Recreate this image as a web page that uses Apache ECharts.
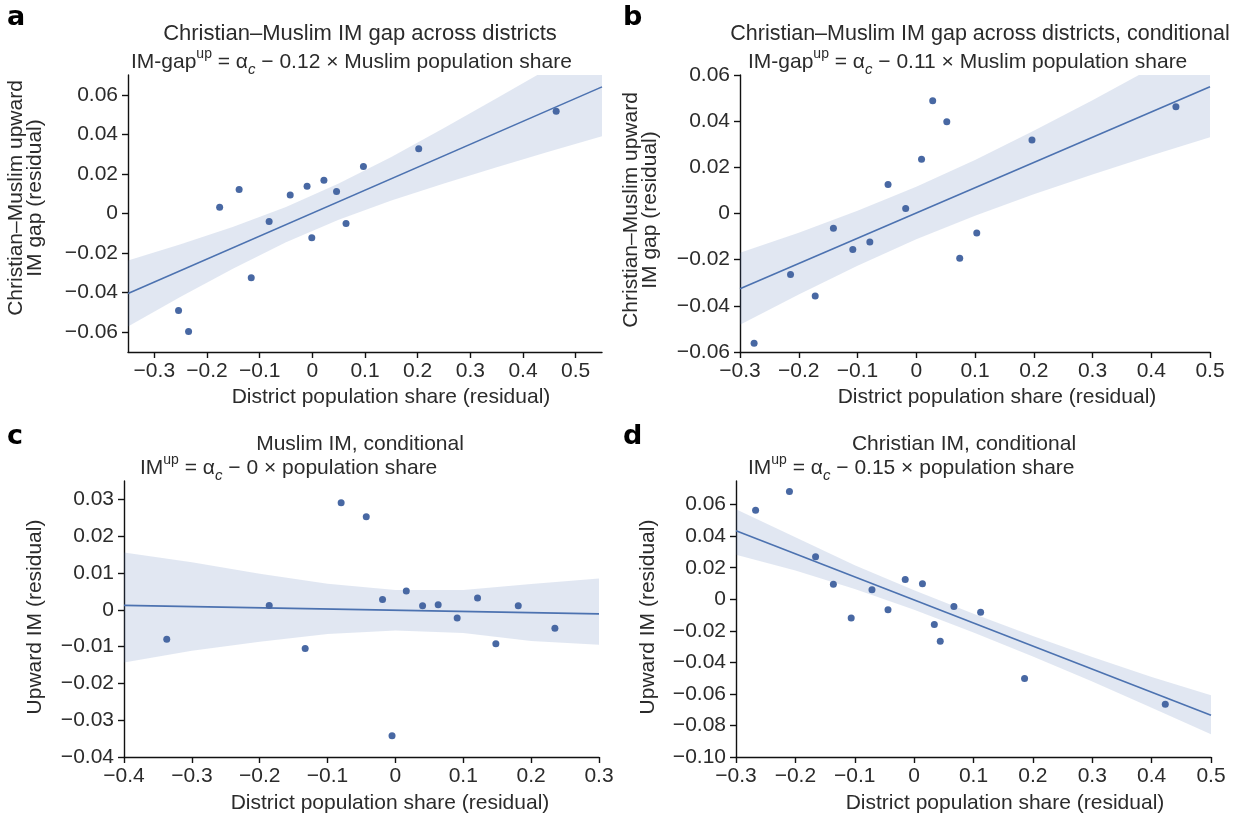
<!DOCTYPE html>
<html>
<head>
<meta charset="utf-8">
<title>IM gap across districts</title>
<script src="https://cdn.jsdelivr.net/npm/echarts@6.0.0/dist/echarts.min.js"></script>
<style>
  html, body { margin: 0; padding: 0; background: #ffffff; }
  #main { width: 1244px; height: 823px; }
</style>
</head>
<body>
<div id="main"></div>
<script>
// ---- panel a: Christian-Muslim IM gap across districts
const aX = [-0.254, -0.235, -0.176, -0.139, -0.116, -0.082, -0.042, -0.010, -0.001, 0.022, 0.046, 0.064, 0.097, 0.202, 0.463];
const aY = [-0.0490, -0.0596, 0.0032, 0.0121, -0.0325, -0.0040, 0.0094, 0.0138, -0.0123, 0.0168, 0.0111, -0.0051, 0.0238, 0.0327, 0.0517];
const aFitX = [-0.35, 0.55];
const aFitY = [-0.0404, 0.0640];
const aBandX = [-0.35, -0.25, -0.15, -0.05, 0.05, 0.15, 0.25, 0.35, 0.45, 0.55];
const aBandLo = [-0.0571, -0.0421, -0.0278, -0.0145, -0.0031, 0.0066, 0.0152, 0.0234, 0.0313, 0.0390];
const aBandHi = [-0.0237, -0.0155, -0.0067, 0.0033, 0.0151, 0.0286, 0.0432, 0.0582, 0.0735, 0.0890];
const aXTicks = [-0.3, -0.2, -0.1, 0, 0.1, 0.2, 0.3, 0.4, 0.5];
const aYTicks = [-0.06, -0.04, -0.02, 0, 0.02, 0.04, 0.06];

// ---- panel b: conditional gap
const bX = [-0.276, -0.214, -0.172, -0.141, -0.108, -0.079, -0.048, -0.018, 0.009, 0.028, 0.052, 0.074, 0.103, 0.197, 0.442];
const bY = [-0.0562, -0.0264, -0.0357, -0.0064, -0.0156, -0.0124, 0.0126, 0.0022, 0.0235, 0.0488, 0.0397, -0.0194, -0.0085, 0.0318, 0.0462];
const bFitX = [-0.3, 0.5];
const bFitY = [-0.0326, 0.0549];
const bBandX = [-0.3, -0.2, -0.1, 0, 0.1, 0.2, 0.3, 0.4, 0.5];
const bBandLo = [-0.0482, -0.0351, -0.0226, -0.0112, -0.0010, 0.0083, 0.0169, 0.0251, 0.0330];
const bBandHi = [-0.0170, -0.0083, 0.0012, 0.0116, 0.0232, 0.0359, 0.0491, 0.0629, 0.0768];
const bXTicks = [-0.3, -0.2, -0.1, 0, 0.1, 0.2, 0.3, 0.4, 0.5];
const bYTicks = [-0.06, -0.04, -0.02, 0, 0.02, 0.04, 0.06];

// ---- panel c: Muslim IM, conditional
const cX = [-0.337, -0.186, -0.133, -0.080, -0.043, -0.019, -0.005, 0.016, 0.040, 0.063, 0.091, 0.121, 0.148, 0.181, 0.235];
const cY = [-0.0080, 0.0012, -0.0105, 0.0291, 0.0253, 0.0028, -0.0342, 0.0051, 0.0011, 0.0014, -0.0022, 0.0032, -0.0092, 0.0011, -0.0050];
const cFitX = [-0.4, 0.3];
const cFitY = [0.0012, -0.0011];
const cBandX = [-0.4, -0.3, -0.2, -0.1, 0, 0.1, 0.2, 0.3];
const cBandLo = [-0.0143, -0.0111, -0.0087, -0.0066, -0.0056, -0.0063, -0.0085, -0.0095];
const cBandHi = [0.0156, 0.0129, 0.0098, 0.0071, 0.0054, 0.0054, 0.0070, 0.0085];
const cXTicks = [-0.4, -0.3, -0.2, -0.1, 0, 0.1, 0.2, 0.3];
const cYTicks = [-0.04, -0.03, -0.02, -0.01, 0, 0.01, 0.02, 0.03];

// ---- panel d: Christian IM, conditional
const dX = [-0.267, -0.210, -0.166, -0.136, -0.106, -0.071, -0.044, -0.015, 0.014, 0.034, 0.044, 0.067, 0.112, 0.186, 0.423];
const dY = [0.0565, 0.0683, 0.0270, 0.0095, -0.0118, 0.0061, -0.0067, 0.0126, 0.0099, -0.0160, -0.0266, -0.0046, -0.0082, -0.0502, -0.0666];
const dFitX = [-0.3, 0.5];
const dFitY = [0.0434, -0.0736];
const dBandX = [-0.3, -0.2, -0.1, 0, 0.1, 0.2, 0.3, 0.4, 0.5];
const dBandLo = [0.0282, 0.0183, 0.0066, -0.0067, -0.0211, -0.0363, -0.0522, -0.0687, -0.0856];
const dBandHi = [0.0571, 0.0393, 0.0216, 0.0057, -0.0091, -0.0233, -0.0366, -0.0493, -0.0609];
const dXTicks = [-0.3, -0.2, -0.1, 0, 0.1, 0.2, 0.3, 0.4, 0.5];
const dYTicks = [-0.10, -0.08, -0.06, -0.04, -0.02, 0, 0.02, 0.04, 0.06];

const FONT = '"Liberation Sans", Arial, sans-serif';
const TXT = '#2b2b2b';
const DOT = '#4868a3';
const LINE = '#4c72b0';
const BAND = 'rgba(76,114,176,0.17)';

const zip = (xs, ys) => xs.map((x, i) => [x, ys[i]]);
// "0" for zero, true minus sign, fixed decimals per axis
const fmt = dec => v => {
    if (Math.abs(v) < 1e-9) return '0';
    return (v < 0 ? '\u2212' : '') + Math.abs(v).toFixed(dec);
};

const panels = [
    { grid: { left: 128, top: 75, width: 474, height: 277 }, xr: [-0.35, 0.55], yr: [-0.07, 0.07],
      x: aX, y: aY, fx: aFitX, fy: aFitY, bx: aBandX, lo: aBandLo, hi: aBandHi, xt: aXTicks, yt: aYTicks },
    { grid: { left: 740, top: 75, width: 470, height: 277 }, xr: [-0.3, 0.5], yr: [-0.06, 0.06],
      x: bX, y: bY, fx: bFitX, fy: bFitY, bx: bBandX, lo: bBandLo, hi: bBandHi, xt: bXTicks, yt: bYTicks },
    { grid: { left: 124, top: 481, width: 475, height: 276 }, xr: [-0.4, 0.3], yr: [-0.04, 0.035],
      x: cX, y: cY, fx: cFitX, fy: cFitY, bx: cBandX, lo: cBandLo, hi: cBandHi, xt: cXTicks, yt: cYTicks },
    { grid: { left: 736, top: 481, width: 475, height: 276 }, xr: [-0.3, 0.5], yr: [-0.10, 0.075],
      x: dX, y: dY, fx: dFitX, fy: dFitY, bx: dBandX, lo: dBandLo, hi: dBandHi, xt: dXTicks, yt: dYTicks }
];

const axisLine = { show: true, onZero: false, lineStyle: { color: '#111', width: 1.4 } };
const axisTick = { show: true, inside: false, length: 6, lineStyle: { color: '#111', width: 1.4 } };
const labelBase = { fontFamily: FONT, fontSize: 21, color: TXT };

// band polygon: upper edge left->right, lower edge right->left, clipped to the grid
const bandRenderer = p => (params, api) => {
    if (params.dataIndex !== 0) return null;
    const cs = params.coordSys;
    const pts = [];
    p.bx.forEach((x, k) => pts.push(api.coord([x, p.hi[k]])));
    for (let k = p.bx.length - 1; k >= 0; k--) pts.push(api.coord([p.bx[k], p.lo[k]]));
    return {
        type: 'polygon',
        shape: { points: pts },
        style: { fill: BAND },
        clipPath: { type: 'rect', shape: { x: cs.x, y: cs.y, width: cs.width, height: cs.height } }
    };
};

const grids = [], xAxes = [], yAxes = [], series = [];
panels.forEach((p, i) => {
    grids.push(Object.assign({ containLabel: false }, p.grid));
    xAxes.push({
        type: 'value', gridIndex: i, min: p.xr[0], max: p.xr[1],
        axisLine: axisLine, splitLine: { show: false },
        axisTick: Object.assign({ customValues: p.xt }, axisTick),
        axisLabel: Object.assign({ customValues: p.xt, margin: 9, formatter: fmt(1) }, labelBase)
    });
    yAxes.push({
        type: 'value', gridIndex: i, min: p.yr[0], max: p.yr[1],
        axisLine: axisLine, splitLine: { show: false },
        axisTick: Object.assign({ customValues: p.yt }, axisTick),
        axisLabel: Object.assign({ customValues: p.yt, margin: 10, formatter: fmt(2) }, labelBase)
    });
    series.push({
        type: 'custom', xAxisIndex: i, yAxisIndex: i, silent: true, z: 1,
        data: zip(p.bx, p.lo), renderItem: bandRenderer(p)
    });
    series.push({
        type: 'line', xAxisIndex: i, yAxisIndex: i, data: zip(p.fx, p.fy),
        symbol: 'none', lineStyle: { color: LINE, width: 1.6 }, z: 2, silent: true
    });
    series.push({
        type: 'scatter', xAxisIndex: i, yAxisIndex: i, data: zip(p.x, p.y),
        symbolSize: 7, itemStyle: { color: DOT, opacity: 1 }, z: 3
    });
});

const txt = (x, y, text, extra) => ({
    type: 'text', x: x, y: y, silent: true,
    style: Object.assign({ text: text, fontFamily: FONT, fontSize: 21, fill: TXT,
        textAlign: 'center', textVerticalAlign: 'middle' }, extra || {})
});
const rich = {
    sup: { fontFamily: FONT, fontSize: 14, fill: TXT, verticalAlign: 'top', lineHeight: 14 },
    sub: { fontFamily: FONT, fontSize: 15, fill: TXT, fontStyle: 'italic', verticalAlign: 'bottom', lineHeight: 12 }
};
const sub = (x, y, text) => txt(x, y, text, { textAlign: 'left', lineHeight: 30, rich: rich });
const letter = (x, y, l) => txt(x, y, l, { fontSize: 27, fontWeight: 'bold', fill: '#000',
    fontFamily: '"DejaVu Sans", ' + FONT, textAlign: 'left' });
const vtxt = (x, y, text, extra) => Object.assign(txt(x, y, text, extra), { rotation: Math.PI / 2 });

const graphics = [
    letter(7, 18, 'a'), letter(623, 18, 'b'), letter(7, 437, 'c'), letter(623, 437, 'd'),
    txt(360, 34, 'Christian\u2013Muslim IM gap across districts', { fontSize: 22 }),
    txt(980, 34, 'Christian\u2013Muslim IM gap across districts, conditional', { fontSize: 21.5 }),
    txt(360, 444, 'Muslim IM, conditional'),
    txt(964, 444, 'Christian IM, conditional'),
    sub(131, 62, 'IM-gap{sup|up} = \u03b1{sub|c} \u2212 0.12 \u00d7 Muslim population share'),
    sub(748, 62, 'IM-gap{sup|up} = \u03b1{sub|c} \u2212 0.11 \u00d7 Muslim population share'),
    sub(140, 468, 'IM{sup|up} = \u03b1{sub|c} \u2212 0 \u00d7 population share'),
    sub(748, 468, 'IM{sup|up} = \u03b1{sub|c} \u2212 0.15 \u00d7 population share'),
    txt(391, 397, 'District population share (residual)'),
    txt(997, 397, 'District population share (residual)'),
    txt(390, 803, 'District population share (residual)'),
    txt(1005, 803, 'District population share (residual)'),
    vtxt(26, 198, 'Christian\u2013Muslim upward\nIM gap (residual)', { lineHeight: 19 }),
    vtxt(641, 210, 'Christian\u2013Muslim upward\nIM gap (residual)', { lineHeight: 19 }),
    vtxt(35, 617, 'Upward IM (residual)'),
    vtxt(648, 617, 'Upward IM (residual)')
];

const chart = echarts.init(document.getElementById('main'), null, { renderer: 'canvas' });
chart.setOption({
    animation: false,
    backgroundColor: '#ffffff',
    grid: grids,
    xAxis: xAxes,
    yAxis: yAxes,
    series: series,
    graphic: graphics
});
</script>
</body>
</html>
